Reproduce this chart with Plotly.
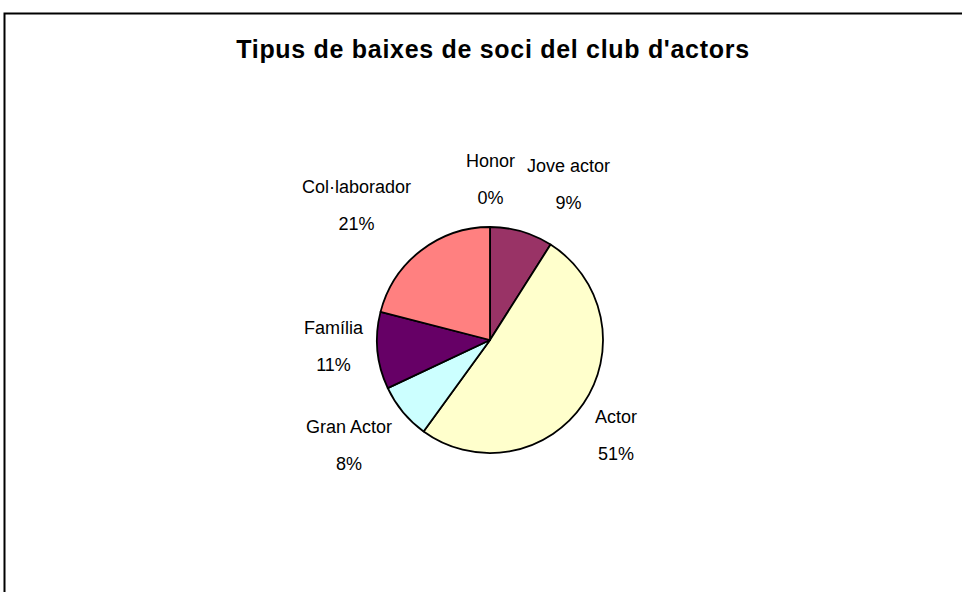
import numpy as np
import plotly.graph_objects as go

labels = ["Honor", "Jove actor", "Actor", "Gran Actor", "Família", "Col·laborador"]
values = [0, 9, 51, 8, 11, 21]
colors = ["#9999FF", "#993366", "#FFFFCC", "#CCFFFF", "#660066", "#FF8080"]
title_text = "Tipus de baixes de soci del club d'actors"

W, H = 962, 592
cx, cy, r_pie = 490, 340, 113      # pie centre / radius in px
r_label = 125                      # distance of label anchor from centre (px)
label_lift = 5                     # extra upward shift of labels (px)
font_family = "Liberation Sans, Arial, sans-serif"

vals = np.array(values, dtype=float)
total = vals.sum()
mid_deg = (np.cumsum(vals) - vals / 2) / total * 360.0
pct = [f"{round(v / total * 100):.0f}%" for v in vals]
mid_rad = np.deg2rad(mid_deg)
ax_x = r_label * np.sin(mid_rad)
ax_y = r_label * np.cos(mid_rad)

def anchors(a):
    a = a % 360
    if a < 15 or a >= 345: return "center", "bottom"
    if a < 75: return "left", "bottom"
    if a < 105: return "left", "middle"
    if a < 165: return "left", "top"
    if a < 195: return "center", "top"
    if a < 255: return "right", "top"
    if a < 285: return "right", "middle"
    return "right", "bottom"

span = "<span style='font-size:18px'>{}</span>"

def dom(r):
    return dict(x=[(cx - r) / W, (cx + r) / W], y=[1 - (cy + r) / H, 1 - (cy - r) / H])

fig = go.Figure()
fig.add_trace(go.Pie(
    labels=labels, values=values, sort=False, direction="clockwise", rotation=0,
    marker=dict(colors=colors, line=dict(color="black", width=1.8)),
    textinfo="none", domain=dom(r_pie), hoverinfo="label+percent",
))
# invisible anchor points for the labels (cartesian frame centred on the pie, 1 unit = 1 px)
fig.add_trace(go.Scatter(x=ax_x, y=ax_y, mode="markers", marker=dict(opacity=0, size=1),
                         hoverinfo="skip", showlegend=False))

annotations = []
for lx, ly, lab, p, a in zip(ax_x, ax_y, labels, pct, mid_deg):
    xa, ya = anchors(a)
    annotations.append(dict(
        x=lx, y=ly, xref="x", yref="y", showarrow=False, xanchor=xa, yanchor=ya,
        align="center", yshift=label_lift,
        text=span.format(lab) + "<br>" + span.format(p),
        font=dict(family=font_family, size=28.5, color="black"),
    ))

fig.update_layout(
    width=W, height=H, margin=dict(l=0, r=0, t=0, b=0),
    paper_bgcolor="white", plot_bgcolor="rgba(0,0,0,0)", showlegend=False,
    xaxis=dict(range=[-cx, W - cx], visible=False, fixedrange=True),
    yaxis=dict(range=[-(H - cy), cy], visible=False, fixedrange=True),
    annotations=annotations,
    title=dict(text="<b><span style='letter-spacing:0.7px'>" + title_text + "</span></b>",
               x=493 / W, xanchor="center", y=1 - 49 / H, yanchor="middle",
               font=dict(family=font_family, size=25, color="black")),
    shapes=[dict(type="rect", xref="paper", yref="paper",
                 x0=4.5 / W, x1=1.02, y0=-0.02, y1=1 - 13.5 / H,
                 line=dict(color="black", width=2), fillcolor="rgba(0,0,0,0)")],
)

fig.write_html("out.html", config={"displayModeBar": False},
               post_script="document.body.style.margin='0';")
